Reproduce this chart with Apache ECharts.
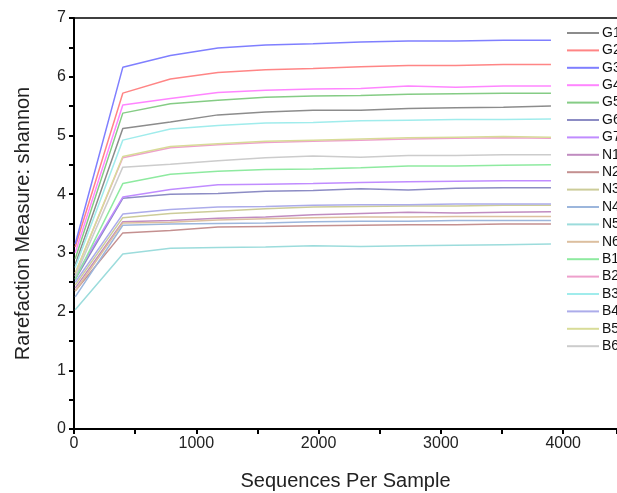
<!DOCTYPE html>
<html>
<head>
<meta charset="utf-8">
<script src="https://cdn.jsdelivr.net/npm/echarts@6/dist/echarts.min.js"></script>
<style>
  html, body { margin: 0; padding: 0; background: #ffffff; }
  #chart { width: 617px; height: 493px; }
</style>
</head>
<body>
<div id="chart"></div>
<script>
// Rarefaction depths (sequences per sample)
const depths = [10, 399, 788, 1177, 1566, 1955, 2344, 2733, 3122, 3511, 3900];

// Shannon index per sample at each depth
const G1 = [2.80, 5.12, 5.23, 5.35, 5.40, 5.43, 5.43, 5.46, 5.47, 5.48, 5.50];
const G2 = [3.10, 5.72, 5.96, 6.07, 6.12, 6.14, 6.17, 6.19, 6.19, 6.21, 6.21];
const G3 = [3.15, 6.16, 6.36, 6.49, 6.54, 6.56, 6.59, 6.61, 6.61, 6.62, 6.62];
const G4 = [3.00, 5.52, 5.63, 5.73, 5.77, 5.79, 5.80, 5.84, 5.82, 5.84, 5.84];
const G5 = [2.90, 5.38, 5.54, 5.60, 5.65, 5.67, 5.68, 5.70, 5.71, 5.72, 5.72];
const G6 = [2.55, 3.93, 4.00, 4.01, 4.05, 4.06, 4.09, 4.07, 4.10, 4.11, 4.11];
const G7 = [2.60, 3.95, 4.08, 4.16, 4.17, 4.18, 4.20, 4.21, 4.22, 4.23, 4.23];
const N1 = [2.40, 3.53, 3.55, 3.59, 3.61, 3.65, 3.67, 3.69, 3.68, 3.69, 3.70];
const N2 = [2.35, 3.34, 3.38, 3.44, 3.45, 3.46, 3.47, 3.48, 3.48, 3.49, 3.49];
const N3 = [2.45, 3.60, 3.67, 3.71, 3.75, 3.78, 3.79, 3.80, 3.80, 3.81, 3.81];
const N4 = [2.25, 3.47, 3.49, 3.50, 3.51, 3.53, 3.54, 3.54, 3.55, 3.55, 3.55];
const N5 = [2.03, 2.98, 3.08, 3.09, 3.10, 3.12, 3.11, 3.12, 3.13, 3.14, 3.15];
const N6 = [2.35, 3.51, 3.52, 3.56, 3.58, 3.60, 3.61, 3.61, 3.62, 3.62, 3.62];
const B1 = [2.55, 4.18, 4.34, 4.39, 4.42, 4.43, 4.45, 4.48, 4.48, 4.49, 4.50];
const B2 = [2.65, 4.62, 4.79, 4.84, 4.88, 4.90, 4.92, 4.94, 4.95, 4.96, 4.95];
const B3 = [2.75, 4.92, 5.11, 5.17, 5.21, 5.22, 5.25, 5.26, 5.27, 5.27, 5.28];
const B4 = [2.50, 3.66, 3.74, 3.78, 3.79, 3.81, 3.82, 3.82, 3.83, 3.83, 3.83];
const B5 = [2.65, 4.64, 4.81, 4.86, 4.90, 4.92, 4.94, 4.96, 4.97, 4.98, 4.97];
const B6 = [2.60, 4.46, 4.51, 4.57, 4.62, 4.65, 4.63, 4.66, 4.66, 4.67, 4.67];

const sampleNames = ['G1','G2','G3','G4','G5','G6','G7','N1','N2','N3','N4','N5','N6','B1','B2','B3','B4','B5','B6'];
const sampleValues = [G1,G2,G3,G4,G5,G6,G7,N1,N2,N3,N4,N5,N6,B1,B2,B3,B4,B5,B6];
const sampleColors = [
  '#8c8c8c', '#ff8585', '#7f7fff', '#ff85ff', '#85cc85', '#8c8cc4', '#c08cff',
  '#c08cc0', '#c49090', '#cccc99', '#9cb6dc', '#9cdcdc', '#dcbf9f',
  '#8eeaa0', '#eea0cc', '#a0ecec', '#acacea', '#d8dc98', '#cccccc'
];

const xTicks = { min: 0, max: 4440, interval: 1000 };
const yTicks = { min: 0, max: 7, interval: 1 };

const font = 'Liberation Sans, Arial, sans-serif';

const series = sampleNames.map((name, i) => ({
  name: name,
  type: 'line',
  data: depths.map((d, j) => [d, sampleValues[i][j]]),
  symbol: 'none',
  lineStyle: { width: 1.5, color: sampleColors[i] },
  itemStyle: { color: sampleColors[i] },
  emphasis: { disabled: true },
  animation: false
}));

const chart = echarts.init(document.getElementById('chart'), null, { renderer: 'canvas' });
chart.setOption({
  backgroundColor: '#ffffff',
  animation: false,
  grid: { left: 74, top: 18, right: 0, bottom: 64, containLabel: false, outerBoundsMode: 'none' },
  legend: {
    orient: 'vertical',
    left: 562,
    top: 21,
    itemWidth: 32,
    itemHeight: 14,
    itemGap: 3.4,
    icon: 'path://M0,6 L32,6 L32,8 L0,8 Z',
    textStyle: { fontFamily: font, fontSize: 14, color: '#111', padding: [0, 0, 0, -2] },
    data: sampleNames
  },
  xAxis: [{
    type: 'value',
    min: xTicks.min,
    max: xTicks.max,
    interval: xTicks.interval,
    name: 'Sequences Per Sample',
    nameLocation: 'middle',
    nameGap: 42,
    nameTextStyle: { fontFamily: font, fontSize: 20, color: '#222' },
    axisLine: { onZero: false, lineStyle: { color: '#000', width: 2 } },
    axisTick: { show: true, length: 5, lineStyle: { color: '#000', width: 2 } },
    minorTick: { show: true, splitNumber: 2, length: 5, lineStyle: { color: '#000', width: 2 } },
    axisLabel: {
      fontFamily: font, fontSize: 16, color: '#222', margin: 7, showMaxLabel: false,
      formatter: (v) => String(v)
    },
    splitLine: { show: false }
  }, {
    type: 'value',
    position: 'top',
    min: xTicks.min,
    max: xTicks.max,
    axisLine: { show: true, onZero: false, lineStyle: { color: '#000', width: 1.5 } },
    axisTick: { show: false },
    axisLabel: { show: false },
    splitLine: { show: false }
  }],
  yAxis: {
    type: 'value',
    min: yTicks.min,
    max: yTicks.max,
    interval: yTicks.interval,
    name: 'Rarefaction Measure: shannon',
    nameLocation: 'middle',
    nameGap: 41,
    nameTextStyle: { fontFamily: font, fontSize: 20, color: '#222' },
    axisLine: { show: true, onZero: false, lineStyle: { color: '#000', width: 2 } },
    axisTick: { show: true, length: 5, lineStyle: { color: '#000', width: 2 } },
    minorTick: { show: true, splitNumber: 2, length: 5, lineStyle: { color: '#000', width: 2 } },
    axisLabel: { fontFamily: font, fontSize: 16, color: '#222', margin: 8 },
    splitLine: { show: false }
  },
  series: series
});
</script>
</body>
</html>
